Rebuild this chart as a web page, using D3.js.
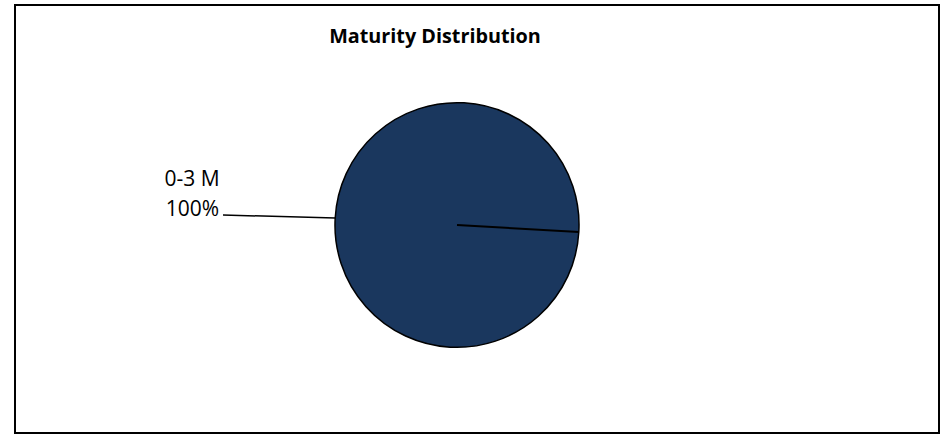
<!DOCTYPE html>
<html><head><meta charset="utf-8">
<script src="https://cdn.jsdelivr.net/npm/d3@7/dist/d3.min.js"></script>
<style>body{margin:0;background:#fff}svg{display:block}</style>
</head><body>
<svg id="c" width="942" height="435"></svg>
<script>
const categories = ["0-3 M"];
const values = [100];
const percentLabels = ["100%"];
const title = "Maturity Distribution";

const svg = d3.select("#c");
svg.append("rect").attr("x",15).attr("y",5).attr("width",924).attr("height",428)
  .attr("fill","#fff").attr("stroke","#000").attr("stroke-width",2);

svg.append("text").attr("x",435).attr("y",43).attr("text-anchor","middle")
  .attr("font-family","Open Sans, Liberation Sans, sans-serif").attr("font-weight","bold")
  .attr("font-size",19.8).attr("fill","#000").text(title);

const cx = 457, cy = 225, r = 122;
const start = 1.628;
const pie = d3.pie().sort(null).startAngle(start).endAngle(start + 2*Math.PI);
const arcs = pie(values);
const arc = d3.arc().innerRadius(0).outerRadius(r);
const g = svg.append("g").attr("transform",`translate(${cx},${cy})`);
g.selectAll("path").data(arcs).join("path").attr("d",arc)
  .attr("fill","#1A375E").attr("stroke","#000").attr("stroke-width",1.5);
g.selectAll("line.edge").data(arcs).join("line").attr("class","edge")
  .attr("x1",0).attr("y1",0)
  .attr("x2",d=>r*Math.sin(d.startAngle)).attr("y2",d=>-r*Math.cos(d.startAngle))
  .attr("stroke","#000").attr("stroke-width",2);

const labX = 223, labY = 215;
arcs.forEach((d,i)=>{
  const mid = (d.startAngle + d.endAngle)/2;
  const ex = cx + r*Math.sin(mid), ey = cy - r*Math.cos(mid);
  svg.append("line").attr("x1",labX).attr("y1",labY).attr("x2",ex).attr("y2",ey)
    .attr("stroke","#000").attr("stroke-width",1.5);
  const t = svg.append("text").attr("font-family","Open Sans, Liberation Sans, sans-serif")
    .attr("font-size",21).attr("fill","#000").attr("text-anchor","middle");
  t.append("tspan").attr("x",192).attr("y",186).text(categories[i]);
  t.append("tspan").attr("x",192.5).attr("y",216).text(percentLabels[i]);
});
</script>
</body></html>
